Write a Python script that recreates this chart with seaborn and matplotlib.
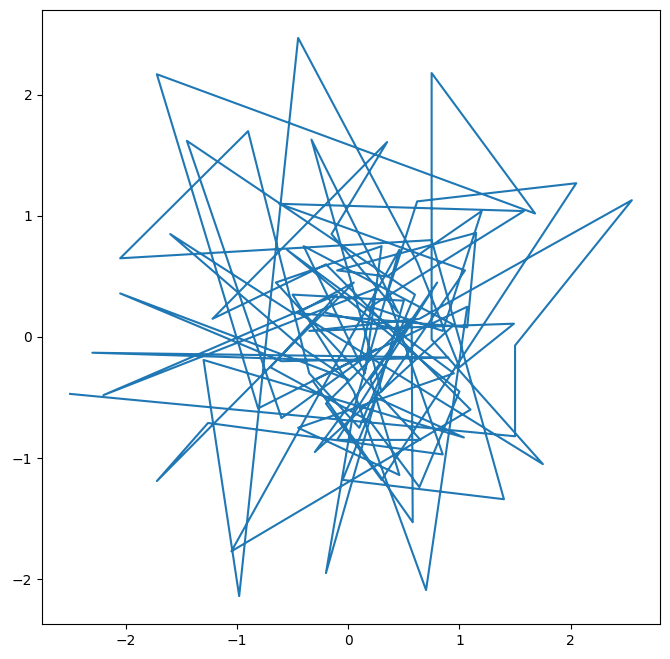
import pandas as pd
import matplotlib
matplotlib.use("Agg")
import matplotlib.pyplot as plt
import seaborn as sns

# path vertices, in drawing order
xs = [-2.5, 1.5, 1.5, 2.55, 0.64, -0.35, 1.49, 1.0, 0.62, -0.45,
      -0.98, -1.3, 1.04, 0.25, -0.05, 1.4, 0.75, -2.05, -0.9, -0.35,
      0.1, 0.6, -1.45, -0.6, 0.25, -0.81, -1.72, 1.68, 0.75, 0.75,
      1.75, -0.45, 0.05, -1.72, -1.26, 0.85, 0.35, 0.62, 2.05, 0.3,
      -0.2, 0.57, 0.58, -0.32, 1.07, 0.7, 0.05, -0.5, 0.5, -0.2,
      0.05, 0.46, -1.05, 1.1, -0.2, -1.22, 0.35, -0.15, 0.45, -0.33,
      0.3, 1.05, -0.62, 1.58, 0.2, 0.85, 1.2, 0.35, -0.1, 1.15,
      1.07, -0.5, -1.6, -0.4, 0.0, -2.05, -0.6, 0.9, -2.3, 0.1,
      0.25, -2.2, -0.1, -0.7, 0.2, 0.64, 1.0, -0.55, 0.95, -0.45,
      0.46, 0.2, 0.8, -0.1, 0.65, -0.65, 0.3, 0.15, -0.4, 0.95,
      -0.3, 0.5, -0.2]
ys = [-0.47, -0.82, -0.07, 1.13, 0.15, 0.05, 0.11, -0.25, 0.62, 2.47,
      -2.14, -0.19, -0.83, -0.5, -1.18, -1.34, 0.8, 0.65, 1.7, -0.3,
      -0.75, 0.35, 1.62, -0.67, -0.1, -0.59, 2.17, 1.02, 2.18, -0.02,
      -1.05, 0.2, 0.45, -1.19, -0.71, -0.97, 0.35, 1.12, 1.27, -1.18,
      -0.55, 0.15, -1.53, -0.36, 0.25, -2.09, -0.45, 0.35, 0.3, -1.95,
      -0.6, 0.72, -1.77, -0.6, 0.6, 0.15, 1.61, 0.85, 0.2, 1.63,
      -0.45, 0.55, 1.1, 1.04, 0.25, 0.05, 1.04, 0.5, 0.55, 0.86,
      0.08, 0.2, 0.85, -0.1, -0.35, 0.36, -0.2, -0.17, -0.13, -0.2,
      0.4, -0.48, 0.35, -0.25, -0.7, -1.24, -0.45, 0.72, -0.3, -0.75,
      -1.14, -0.35, 0.45, -0.85, -0.85, 0.45, 0.75, -0.3, 0.75, 0.1,
      -0.95, 0.05, 0.2]

df = pd.DataFrame({"x": xs, "y": ys})

fig = plt.figure(figsize=(6.7, 6.59), dpi=100)
ax = fig.add_axes([0.0627, 0.0531, 0.9223, 0.9317])
sns.lineplot(data=df, x="x", y="y", sort=False, estimator=None, color="#1f77b4", linewidth=1.5, ax=ax)
ax.set_xlabel("")
ax.set_ylabel("")
fig.savefig("out.png", dpi=100)
